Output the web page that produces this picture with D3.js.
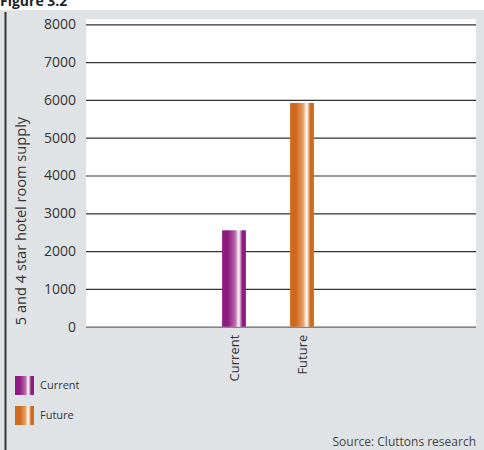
<!DOCTYPE html>
<html><head><meta charset="utf-8">
<script src="https://cdn.jsdelivr.net/npm/d3@7"></script>
<style>body{margin:0;background:#fff}svg{display:block}text{font-family:"Open Sans","Noto Sans",sans-serif}</style>
</head><body>
<svg id="c" width="484" height="450"></svg>
<script>
const categories = ["Current", "Future"];
const values = [2550, 5920];
const yTicks = [0, 1000, 2000, 3000, 4000, 5000, 6000, 7000, 8000];
const title = "Figure 3.2";
const yTitle = "5 and 4 star hotel room supply";
const source = "Source: Cluttons research";
const colors = {Current: ["#8e1c80", "#b86aa9", "#ffffff"], Future: ["#cf6a1c", "#e6a06a", "#ffffff"]};

const svg = d3.select("#c");
const W = 484, H = 450;
const plot = {l: 86, r: 476, t: 19, b: 327};

svg.append("rect").attr("x", 0).attr("y", 10).attr("width", W).attr("height", H - 10).attr("fill", "#dfe3e6");
svg.append("rect").attr("x", plot.l).attr("y", plot.t).attr("width", plot.r - plot.l).attr("height", plot.b - plot.t).attr("fill", "#fff");
svg.append("line").attr("x1", 5.5).attr("x2", 5.5).attr("y1", 12).attr("y2", H).attr("stroke", "#333").attr("stroke-width", 2);

svg.append("text").attr("x", 0).attr("y", 6).attr("font-size", 14).attr("font-weight", "bold").attr("fill", "#222").text(title);

const y = d3.scaleLinear().domain([0, 8000]).range([326.7, 24.3]);
const x = d3.scaleBand().domain(categories).range([200, 336]).paddingInner(0.65).paddingOuter(0.325);

const defs = svg.append("defs");
categories.forEach(c => {
  const [d, m, w] = colors[c];
  const g = defs.append("linearGradient").attr("id", "g" + c).attr("x1", 0).attr("x2", 1).attr("y1", 0).attr("y2", 0);
  [[0, d], [0.25, d], [0.55, m], [0.7, w], [0.85, d], [1, d]].forEach(([o, col]) =>
    g.append("stop").attr("offset", o).attr("stop-color", col));
});

// grid
const yAxis = d3.axisLeft(y).tickValues(yTicks).tickFormat(d3.format("d")).tickSize(-(plot.r - plot.l)).tickPadding(10);
const ga = svg.append("g").attr("transform", `translate(${plot.l},0)`).call(yAxis);
ga.select(".domain").remove();
ga.selectAll(".tick line").attr("stroke", d => d === 0 ? "#666" : "#333").attr("stroke-width", 1.2);
ga.selectAll(".tick text").attr("font-size", 14).attr("fill", "#333").attr("x", -10);

svg.append("g").selectAll("rect").data(categories).join("rect")
  .attr("x", d => x(d)).attr("width", x.bandwidth())
  .attr("y", (d, i) => y(values[i])).attr("height", (d, i) => y(0) - y(values[i]))
  .attr("fill", d => `url(#g${d})`);

// category labels
const xa = svg.append("g").attr("transform", `translate(0,${y(0)})`).call(d3.axisBottom(x).tickSize(0).tickPadding(0));
xa.select(".domain").remove();
xa.selectAll(".tick text").attr("font-size", 13).attr("fill", "#333")
  .attr("transform", "rotate(-90)").attr("text-anchor", "end").attr("x", -8).attr("y", 0).attr("dy", "0.35em");

svg.append("text").attr("transform", "translate(26,221) rotate(-90)").attr("text-anchor", "middle")
  .attr("font-size", 14.6).attr("fill", "#333").text(yTitle);

// legend
const lg = svg.append("g").selectAll("g").data(categories).join("g")
  .attr("transform", (d, i) => `translate(15,${376 + i * 30})`);
lg.append("rect").attr("width", 19).attr("height", 19).attr("fill", d => `url(#g${d})`);
lg.append("text").attr("x", 25).attr("y", 13).attr("font-size", 11).attr("fill", "#333").text(d => d);

svg.append("text").attr("x", 476).attr("y", 446).attr("text-anchor", "end").attr("font-size", 12).attr("fill", "#444").text(source);
</script>
</body></html>
